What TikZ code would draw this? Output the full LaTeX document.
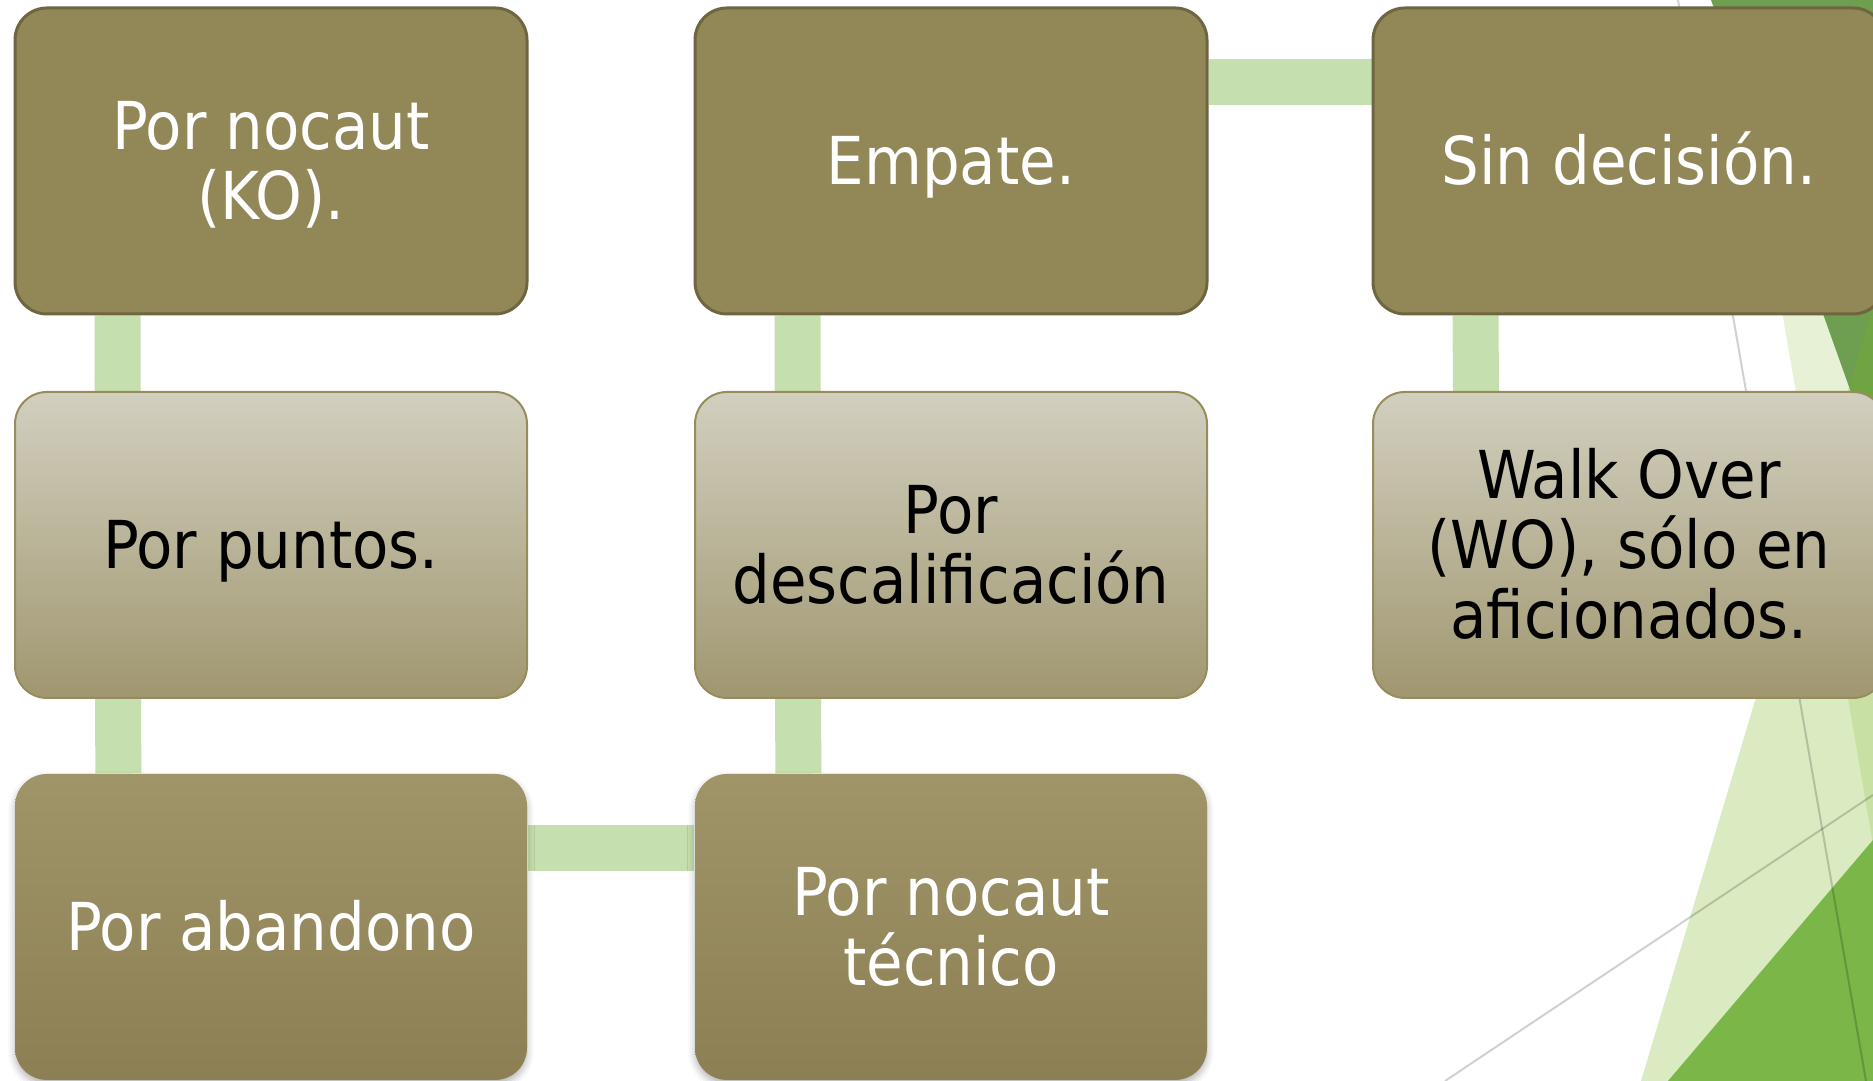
\documentclass[tikz,border=0pt]{standalone}
\usepackage{fontspec}
\usetikzlibrary{backgrounds, shadows.blur}

\newfontfamily\boxfont{DejaVu Sans Condensed}

% every line as tall as a capital, no depth
\newcommand\boxline[1]{\rule{0pt}{0.47cm}\smash{#1}}

\definecolor{boxdark}{RGB}{145,135,87}
\definecolor{boxdarkline}{RGB}{110,102,64}
\definecolor{boxlighttop}{RGB}{210,207,191}
\definecolor{boxlightbot}{RGB}{160,151,112}
\definecolor{boxlightline}{RGB}{151,141,92}
\definecolor{boxlowtop}{RGB}{160,148,105}
\definecolor{boxlowbot}{RGB}{139,127,83}
\definecolor{linkgreen}{RGB}{198,223,174}
\definecolor{facetgreen}{RGB}{120,180,30}
\definecolor{facetdark}{RGB}{110,158,79}
\definecolor{facetbright}{RGB}{122,182,72}

\tikzset{
	basebox/.style = {rectangle, rounded corners = 0.32cm, minimum width = 5.12cm,
		minimum height = 3.06cm, align = center, inner sep = 0pt,
		font = \boxfont\fontsize{18.8}{19.9}\selectfont},
	darkbox/.style = {basebox, fill = boxdark, draw = boxdarkline, line width = 0.03cm, text = white},
	lightbox/.style = {basebox, top color = boxlighttop, bottom color = boxlightbot,
		draw = boxlightline, line width = 0.02cm, text = black},
	lowbox/.style = {basebox, top color = boxlowtop, bottom color = boxlowbot, draw = none, text = white,
		blur shadow = {shadow xshift = 0pt, shadow yshift = -1.2pt, shadow blur radius = 2pt, shadow opacity = 30}},
	link/.style = {draw = linkgreen, line width = 0.46cm},
	facetline/.style = {draw = black, draw opacity = 0.18, line width = 0.02cm}
}

\begin{document}
\begin{tikzpicture}

	\useasboundingbox (0, 0) rectangle (18.73, 10.81);

	% Facets on the right
	
	\fill [facetgreen, fill opacity = 0.19] (17.29, 10.81) -- (18.73, 10.81) -- (18.73, 2.36) -- cycle;
	\fill [facetdark] (17.11, 10.81) -- (18.73, 10.81) -- (18.73, 6.27) -- cycle;
	\fill [facetgreen, fill opacity = 0.27] (16.41, 0) -- (18.73, 7.74) -- (18.73, 0) -- cycle;
	\fill [facetbright] (16.68, 0) -- (18.73, 2.41) -- (18.73, 0) -- cycle;
	
	\draw [facetline] (16.78, 10.81) -- (18.66, 0);
	\draw [facetline] (14.45, 0) -- (18.73, 2.86);
	
	% Boxes
	
	\node [darkbox] (ko) at (2.71, 9.20) {\boxline{Por nocaut}\\\boxline{(KO).}};
	\node [lightbox] (puntos) at (2.71, 5.36) {\boxline{Por puntos.}};
	\node [lowbox] (aband) at (2.71, 1.54) {\boxline{Por abandono}};
	
	\node [lowbox] (tecnico) at (9.51, 1.54) {\boxline{Por nocaut}\\\boxline{técnico}};
	\node [lightbox] (descal) at (9.51, 5.36) {\boxline{Por}\\\boxline{descalificación}};
	\node [darkbox] (empate) at (9.51, 9.20) {\boxline{Empate.}};
	
	\node [darkbox] (sindec) at (16.29, 9.20) {\boxline{Sin decisión.}};
	\node [lightbox] (walk) at (16.29, 5.36) {\boxline{Walk Over}\\\boxline{(WO), sólo en}\\\boxline{aficionados.}};
	
	% Links behind the boxes
	
	\begin{scope}[on background layer]
	
		\draw [link] ([xshift = 1.04cm] ko.south west) -- ([xshift = 1.04cm] aband.north west);
		\draw [link] ([yshift = -0.75cm] aband.north east) -- ([yshift = -0.75cm] tecnico.north west);
		\draw [link] ([xshift = 1.04cm] tecnico.north west) -- ([xshift = 1.04cm] empate.south west);
		\draw [link] ([yshift = -0.76cm] empate.north east) -- ([yshift = -0.76cm] sindec.north west);
		\draw [link] ([xshift = 1.04cm] sindec.south west) -- ([xshift = 1.04cm] walk.north west);
	
	\end{scope}

\end{tikzpicture}
\end{document}
